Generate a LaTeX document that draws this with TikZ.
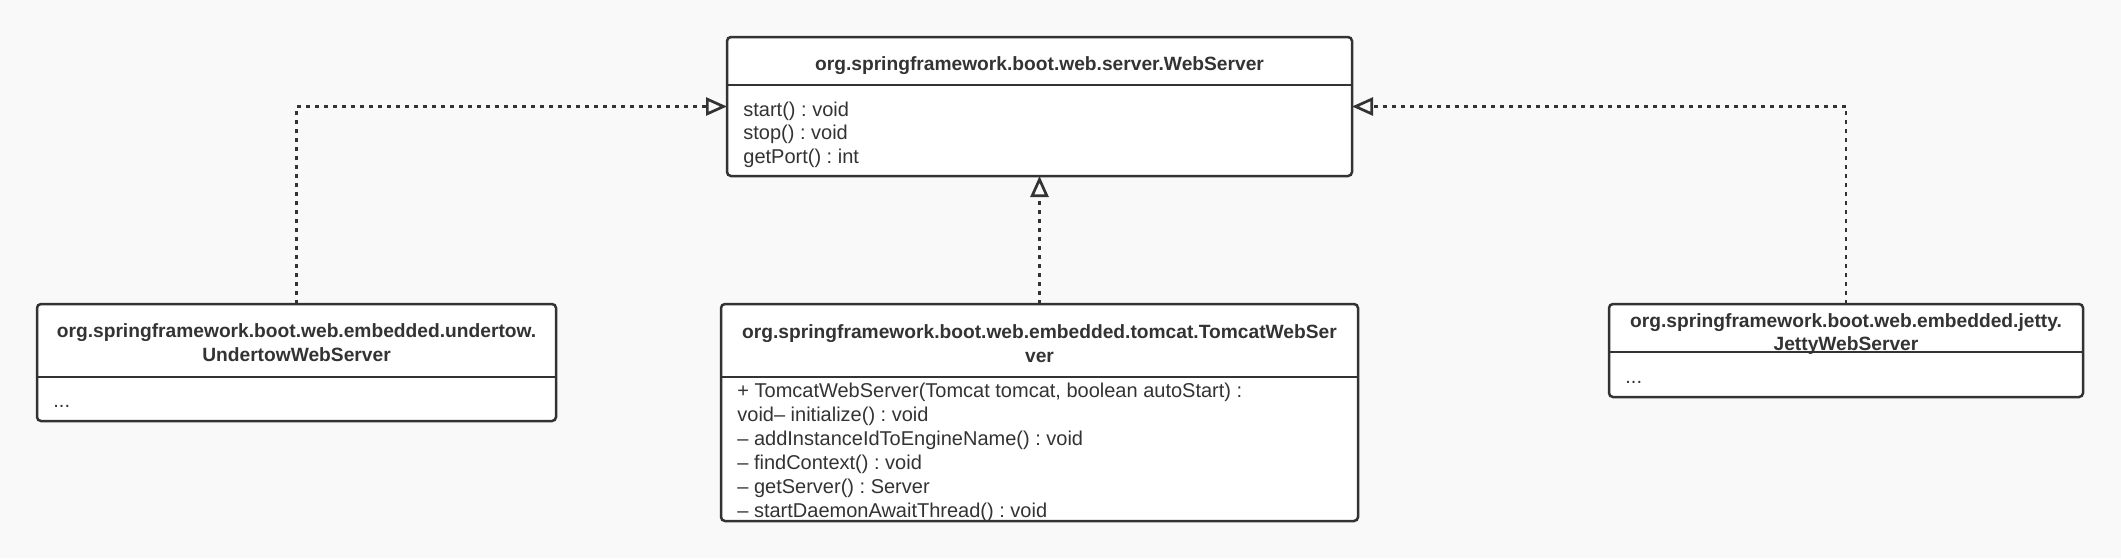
\documentclass[tikz,border=0pt]{standalone}
\usepackage{fontspec}
\setmainfont{Liberation Sans}
\usetikzlibrary{arrows.meta,calc}
\frenchspacing

\definecolor{umlgray}{HTML}{333333}
\definecolor{canvas}{HTML}{F9F9F9}

\tikzset{
	classbox/.style={draw=umlgray, fill=white, line width=1.25pt, rounded corners=2pt, inner sep=0pt, outer sep=0pt},
	divider/.style={draw=umlgray, line width=1.25pt},
	classname/.style={anchor=base, inner sep=0pt, text=umlgray, font=\fontsize{9.6}{12}\selectfont\bfseries},
	member/.style={anchor=base west, inner sep=0pt, text=umlgray, font=\fontsize{10}{12}\selectfont},
	realizes/.style={draw=umlgray, line width=1.35pt, dash pattern=on 2pt off 2.5pt, -{Triangle[open, length=10.5pt, width=9pt]}},
}

\begin{document}
\begin{tikzpicture}[x=0.5pt, y=-0.5pt]

	\fill[canvas] (0,0) rectangle (2121,558);
	\useasboundingbox (0,0) rectangle (2121,558);

	% class boxes
	\node[classbox, minimum width=312.5pt, minimum height=69.5pt] (webserver) at (1039.5,106.5) {};
	\node[classbox, minimum width=259.5pt, minimum height=58.5pt] (undertow) at (296.5,362.5) {};
	\node[classbox, minimum width=318.5pt, minimum height=108.5pt] (tomcat) at (1039.5,412.5) {};
	\node[classbox, minimum width=237pt, minimum height=46.5pt] (jetty) at (1846,350.5) {};

	\draw[divider] ($(webserver.north west)+(0,48)$) -- ($(webserver.north east)+(0,48)$);
	\draw[divider] ($(undertow.north west)+(0,73)$) -- ($(undertow.north east)+(0,73)$);
	\draw[divider] ($(tomcat.north west)+(0,73)$) -- ($(tomcat.north east)+(0,73)$);
	\draw[divider] ($(jetty.north west)+(0,48)$) -- ($(jetty.north east)+(0,48)$);

	% WebServer
	\node[classname] (ws-name) at (1039.5,70) {org.springframework.boot.web.server.WebServer};
	\foreach \txt [count=\i from 0] in {start() : void, stop() : void, getPort() : int}
		\node[member] (ws-m\i) at (743,116+\i*23.5) {\txt};

	% UndertowWebServer
	\node[classname] (ut-name1) at (296.5,337) {org.springframework.boot.web.embedded.undertow.};
	\node[classname] (ut-name2) at (296.5,361) {UndertowWebServer};
	\node[member] (ut-m0) at (53,407) {...};

	% TomcatWebServer
	\node[classname] (tc-name1) at (1039.5,338) {org.springframework.boot.web.embedded.tomcat.TomcatWebSer};
	\node[classname] (tc-name2) at (1039.5,362) {ver};
	\foreach \txt [count=\i from 0] in {{+ TomcatWebServer(Tomcat tomcat, boolean autoStart) :}, void– initialize() : void, – addInstanceIdToEngineName() : void, – findContext() : void, – getServer() : Server, – startDaemonAwaitThread() : void}
		\node[member] (tc-m\i) at (737,397+\i*24) {\txt};

	% JettyWebServer
	\node[classname] (jt-name1) at (1846,327) {org.springframework.boot.web.embedded.jetty.};
	\node[classname] (jt-name2) at (1846,350) {JettyWebServer};
	\node[member] (jt-m0) at (1625,383) {...};

	% realizations
	\draw[realizes] (undertow.north) |- (webserver.west);
	\draw[realizes] (tomcat.north) -- (webserver.south);
	\draw[realizes] (jetty.north) |- (webserver.east);

\end{tikzpicture}
\end{document}
